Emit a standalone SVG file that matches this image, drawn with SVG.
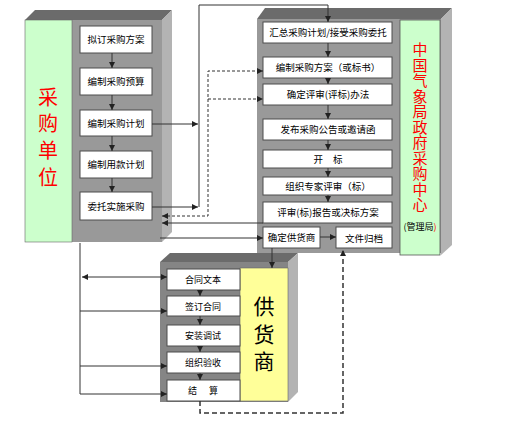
<svg xmlns="http://www.w3.org/2000/svg" width="512" height="423" viewBox="0 0 512 423">
<style>
.top{fill:#6b6b6b}
.side{fill:#b3b3b3}
.front{fill:#999999}
.sfront{fill:#858585}
.box{fill:#ffffff;stroke:#4d4d4d;stroke-width:1}
.t{font-family:"Noto Sans CJK SC","Noto Sans",sans-serif;font-size:9.5px;fill:#000;text-anchor:middle}
.ts{font-family:"Noto Sans CJK SC","Noto Sans",sans-serif;font-size:9px;fill:#000;text-anchor:middle}
.vert{font-family:"Noto Sans CJK SC",sans-serif;writing-mode:tb;text-anchor:start}
.ln{fill:none;stroke:#333;stroke-width:1}
.dl{fill:none;stroke:#333;stroke-width:1;stroke-dasharray:3 2}
.dl2{fill:none;stroke:#333;stroke-width:1.5;stroke-dasharray:5 3}
</style>
<defs>
<marker id="ar" markerUnits="userSpaceOnUse" markerWidth="7" markerHeight="7" refX="6" refY="3.5" orient="auto-start-reverse">
<path d="M0,0.5 L6,3.5 L0,6.5 Z" fill="#222"/>
</marker>
</defs>

<!-- Left panel: 采购单位 -->
<g id="buyer-panel">
<polygon class="top" points="25,20 35,10 172,10 162,20"/>
<polygon class="side" points="162,20 172,10 172,232 162,242"/>
<rect class="front" x="72" y="20" width="90" height="222"/>
<rect x="25" y="20" width="47" height="222" fill="#ccffcc" stroke="#666" stroke-width="0.6"/>
<text class="vert" x="48" y="87" font-size="20" letter-spacing="6.7" fill="#ff0000">采购单位</text>
</g>
<g id="b1"><rect class="box" x="80" y="26" width="72" height="27"/><text class="t" x="116" y="43">拟订采购方案</text></g>
<g id="b2"><rect class="box" x="80" y="68" width="72" height="27"/><text class="t" x="116" y="85">编制采购预算</text></g>
<g id="b3"><rect class="box" x="80" y="110" width="72" height="26"/><text class="t" x="116" y="127">编制采购计划</text></g>
<g id="b4"><rect class="box" x="80" y="151" width="72" height="27"/><text class="t" x="116" y="168">编制用款计划</text></g>
<g id="b5"><rect class="box" x="80" y="192" width="72" height="28"/><text class="t" x="116" y="210">委托实施采购</text></g>

<!-- Right panel: 中国气象局政府采购中心 -->
<g id="center-panel">
<polygon class="top" points="257,19 265,8 452,8 441,19"/>
<polygon class="side" points="441,19 452,8 452,245 441,255"/>
<rect class="front" x="257" y="19" width="184" height="234"/>
<rect x="400" y="20" width="40" height="235" fill="#ccffcc" stroke="#555" stroke-width="0.8"/>
<text class="vert" x="420" y="42" font-size="15" letter-spacing="0.5" fill="#ff0000">中国气象局政府采购中心</text>
<text x="420" y="230" font-family="&quot;Noto Sans CJK SC&quot;,sans-serif" font-size="9" text-anchor="middle" fill="#000">(管理局<tspan fill="#ff0000">)</tspan></text>
</g>
<g id="c1"><rect class="box" x="263" y="22" width="129" height="21"/><text class="t" x="328" y="36">汇总采购计划/接受采购委托</text></g>
<g id="c2"><rect class="box" x="263" y="57" width="129" height="21"/><text class="t" x="328" y="71">编制采购方案（或标书）</text></g>
<g id="c3"><rect class="box" x="263" y="84" width="129" height="21"/><text class="t" x="328" y="98">确定评审(评标)办法</text></g>
<g id="c4"><rect class="box" x="263" y="119" width="129" height="21"/><text class="t" x="328" y="133">发布采购公告或邀请函</text></g>
<g id="c5"><rect class="box" x="263" y="150" width="129" height="18"/><text class="t" x="328" y="163">开<tspan dx="10">标</tspan></text></g>
<g id="c6"><rect class="box" x="263" y="177" width="129" height="18"/><text class="t" x="328" y="190">组织专家评审（标）</text></g>
<g id="c7"><rect class="box" x="263" y="202" width="129" height="21"/><text class="t" x="328" y="216">评审(标)报告或决标方案</text></g>
<g id="c8"><rect class="box" x="263" y="227" width="57" height="21"/><text class="t" font-size="7.5" x="291.5" y="240.5">确定供货商</text></g>
<g id="c9"><rect class="box" x="336" y="227" width="56" height="21"/><text class="t" font-size="11" x="364" y="242">文件归档</text></g>

<!-- Supplier panel: 供货商 -->
<g id="supplier-panel">
<polygon class="top" points="160,262 170,253 298,253 288,262"/>
<polygon class="side" points="288,262 298,253 298,392 288,402"/>
<rect class="sfront" x="160" y="262" width="128" height="140"/>
<rect x="240" y="268" width="48" height="133" fill="#ffff99" stroke="#666" stroke-width="0.6"/>
<text class="vert" x="264" y="296" font-size="21" letter-spacing="6.5" fill="#000">供货商</text>
</g>
<g id="s1"><rect class="box" x="167" y="269" width="73" height="21"/><text class="ts" x="203" y="283">合同文本</text></g>
<g id="s2"><rect class="box" x="167" y="296" width="73" height="20"/><text class="ts" x="203" y="309.5">签订合同</text></g>
<g id="s3"><rect class="box" x="167" y="325" width="73" height="21"/><text class="ts" x="203" y="339">安装调试</text></g>
<g id="s4"><rect class="box" x="167" y="352" width="73" height="21"/><text class="ts" x="203" y="366">组织验收</text></g>
<g id="s5"><rect class="box" x="167" y="380" width="73" height="21"/><text class="ts" x="203" y="394">结<tspan dx="12">算</tspan></text></g>

<!-- Connectors -->
<g id="connectors">
<path class="ln" d="M112,53 V68" marker-end="url(#ar)"/>
<path class="ln" d="M112,95 V110" marker-end="url(#ar)"/>
<path class="ln" d="M112,136 V151" marker-end="url(#ar)"/>
<path class="ln" d="M112,178 V192" marker-end="url(#ar)"/>

<path class="ln" d="M328,43 V57" marker-end="url(#ar)"/>
<path class="ln" d="M328,78 V84" marker-end="url(#ar)"/>
<path class="ln" d="M328,105 V119" marker-end="url(#ar)"/>
<path class="ln" d="M328,140 V150" marker-end="url(#ar)"/>
<path class="ln" d="M328,168 V177" marker-end="url(#ar)"/>
<path class="ln" d="M328,195 V202" marker-end="url(#ar)"/>
<path class="ln" d="M320,237 H336" marker-end="url(#ar)"/>

<path class="ln" d="M200,290 V296" marker-end="url(#ar)"/>
<path class="ln" d="M200,316 V325" marker-end="url(#ar)"/>
<path class="ln" d="M200,346 V352" marker-end="url(#ar)"/>
<path class="ln" d="M200,373 V380" marker-end="url(#ar)"/>

<path class="ln" d="M152,124 H198" marker-end="url(#ar)"/>
<path class="ln" d="M152,207 H198" marker-end="url(#ar)"/>
<path class="ln" d="M199,207 V5 H328 V22" marker-end="url(#ar)"/>

<path class="dl" d="M162,216 H208 V71 H263" marker-start="url(#ar)" marker-end="url(#ar)"/>
<path class="dl" d="M208,99 H263" marker-end="url(#ar)"/>

<path class="ln" d="M263,223 H162" marker-end="url(#ar)"/>
<path class="ln" d="M160,238 H263" marker-end="url(#ar)"/>
<path class="ln" d="M272,248 V268" marker-end="url(#ar)"/>

<path class="dl2" d="M200,401 V413 H343 V250" marker-end="url(#ar)"/>

<path class="ln" d="M80,243 V394"/>
<path class="ln" d="M82,277 H167" marker-start="url(#ar)" marker-end="url(#ar)"/>
<path class="ln" d="M80,311 H167" marker-end="url(#ar)"/>
<path class="ln" d="M80,366 H167" marker-end="url(#ar)"/>
<path class="ln" stroke-width="1.5" d="M80,394 H167" marker-end="url(#ar)"/>
</g>
</svg>
